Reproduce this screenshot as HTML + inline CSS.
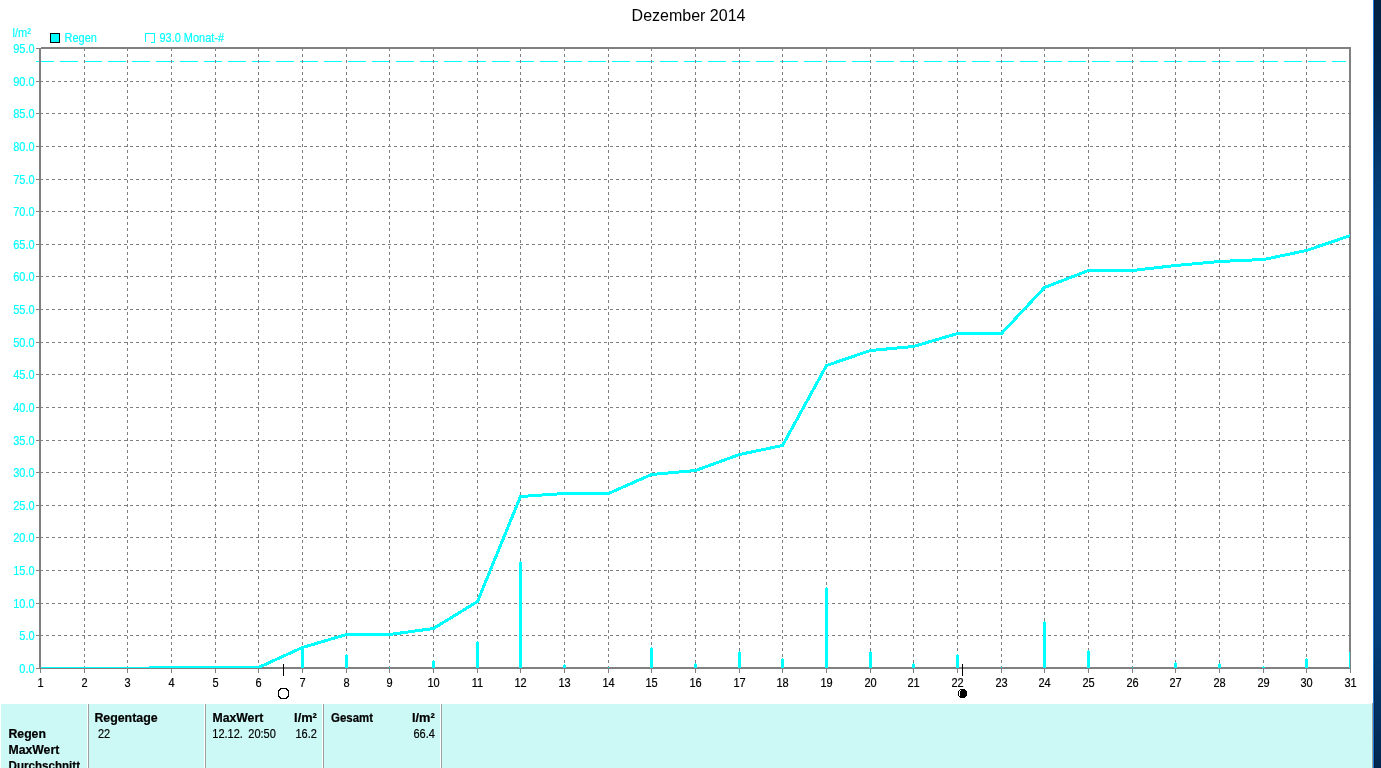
<!DOCTYPE html>
<html lang="de"><head><meta charset="utf-8"><title>Dezember 2014</title>
<style>html,body{margin:0;padding:0;background:#fff;overflow:hidden}body{width:1381px;height:768px;position:relative}svg{position:absolute;left:0;top:0;display:block}text{font-family:"Liberation Sans",sans-serif}.c{fill:#00ffff;stroke:#00ffff;stroke-width:.15px}.k{fill:#000;stroke:#000;stroke-width:.2px}.b{font-weight:bold;stroke-width:.2px}</style></head><body>
<svg width="1381" height="768" viewBox="0 0 1381 768">
<defs>
<linearGradient id="desk" x1="0" y1="0" x2="0" y2="1"><stop offset="0" stop-color="#012245"/><stop offset="0.05" stop-color="#012448"/><stop offset="0.13" stop-color="#022a54"/><stop offset="0.18" stop-color="#023468"/><stop offset="0.26" stop-color="#03417a"/><stop offset="0.34" stop-color="#04488a"/><stop offset="0.4" stop-color="#044280"/><stop offset="0.456" stop-color="#043d78"/><stop offset="0.57" stop-color="#03407c"/><stop offset="0.7" stop-color="#044484"/><stop offset="0.83" stop-color="#04407c"/><stop offset="0.86" stop-color="#033a70"/><stop offset="0.94" stop-color="#023060"/><stop offset="1" stop-color="#02274f"/></linearGradient>
<clipPath id="plot"><rect x="41" y="49" width="1309" height="619"/></clipPath>
</defs>
<rect x="0" y="0" width="1381" height="768" fill="#fff"/>
<g shape-rendering="crispEdges">
<rect x="1374" y="0" width="7" height="768" fill="url(#desk)"/>
<rect x="1374" y="0" width="1" height="768" fill="#000" fill-opacity="0.2"/>
<rect x="1373" y="0" width="1" height="768" fill="#1a7bd8"/>
</g>
<g shape-rendering="crispEdges">
<rect x="1" y="704" width="1371" height="64" fill="#ccf9f6"/>
<rect x="1371" y="704" width="1" height="64" fill="#d6fffc"/>
<rect x="1372" y="703" width="1" height="65" fill="#a0a0a0"/>
<rect x="87" y="704" width="1" height="64" fill="#fff"/>
<rect x="88" y="704" width="1" height="64" fill="#a0a0a0"/>
<rect x="204" y="704" width="1" height="64" fill="#fff"/>
<rect x="205" y="704" width="1" height="64" fill="#a0a0a0"/>
<rect x="322" y="704" width="1" height="64" fill="#fff"/>
<rect x="323" y="704" width="1" height="64" fill="#a0a0a0"/>
<rect x="440" y="704" width="1" height="64" fill="#fff"/>
<rect x="441" y="704" width="1" height="64" fill="#a0a0a0"/>
</g>
<path shape-rendering="crispEdges" d="M36 61.5H1346" stroke="#00ffff" stroke-width="1" stroke-dasharray="18 6" fill="none"/>
<g shape-rendering="crispEdges" stroke="#7e7e7e" stroke-width="1" stroke-dasharray="3 3" fill="none">
<path d="M40 635.5H1349"/>
<path d="M40 603.5H1349"/>
<path d="M40 570.5H1349"/>
<path d="M40 537.5H1349"/>
<path d="M40 505.5H1349"/>
<path d="M40 472.5H1349"/>
<path d="M40 440.5H1349"/>
<path d="M40 407.5H1349"/>
<path d="M40 374.5H1349"/>
<path d="M40 342.5H1349"/>
<path d="M40 309.5H1349"/>
<path d="M40 276.5H1349"/>
<path d="M40 244.5H1349"/>
<path d="M40 211.5H1349"/>
<path d="M40 179.5H1349"/>
<path d="M40 146.5H1349"/>
<path d="M40 113.5H1349"/>
<path d="M40 81.5H1349"/>
<path d="M84.5 48V668"/>
<path d="M127.5 48V668"/>
<path d="M171.5 48V668"/>
<path d="M215.5 48V668"/>
<path d="M258.5 48V668"/>
<path d="M302.5 48V668"/>
<path d="M346.5 48V668"/>
<path d="M389.5 48V668"/>
<path d="M433.5 48V668"/>
<path d="M477.5 48V668"/>
<path d="M520.5 48V668"/>
<path d="M564.5 48V668"/>
<path d="M608.5 48V668"/>
<path d="M651.5 48V668"/>
<path d="M695.5 48V668"/>
<path d="M739.5 48V668"/>
<path d="M782.5 48V668"/>
<path d="M826.5 48V668"/>
<path d="M870.5 48V668"/>
<path d="M913.5 48V668"/>
<path d="M957.5 48V668"/>
<path d="M1001.5 48V668"/>
<path d="M1044.5 48V668"/>
<path d="M1088.5 48V668"/>
<path d="M1132.5 48V668"/>
<path d="M1175.5 48V668"/>
<path d="M1219.5 48V668"/>
<path d="M1263.5 48V668"/>
<path d="M1306.5 48V668"/>
</g>
<g shape-rendering="crispEdges" fill="#808080">
<rect x="39" y="48" width="2" height="621"/>
<rect x="41" y="47" width="1310" height="2"/>
<rect x="1349" y="47" width="2" height="622"/>
<rect x="39" y="667" width="1312" height="2"/>
<rect x="36" y="668" width="3" height="1"/>
<rect x="36" y="635" width="3" height="1"/>
<rect x="36" y="603" width="3" height="1"/>
<rect x="36" y="570" width="3" height="1"/>
<rect x="36" y="537" width="3" height="1"/>
<rect x="36" y="505" width="3" height="1"/>
<rect x="36" y="472" width="3" height="1"/>
<rect x="36" y="440" width="3" height="1"/>
<rect x="36" y="407" width="3" height="1"/>
<rect x="36" y="374" width="3" height="1"/>
<rect x="36" y="342" width="3" height="1"/>
<rect x="36" y="309" width="3" height="1"/>
<rect x="36" y="276" width="3" height="1"/>
<rect x="36" y="244" width="3" height="1"/>
<rect x="36" y="211" width="3" height="1"/>
<rect x="36" y="179" width="3" height="1"/>
<rect x="36" y="146" width="3" height="1"/>
<rect x="36" y="113" width="3" height="1"/>
<rect x="36" y="81" width="3" height="1"/>
<rect x="36" y="48" width="3" height="1"/>
<rect x="40" y="669" width="1" height="4"/>
<rect x="84" y="669" width="1" height="4"/>
<rect x="127" y="669" width="1" height="4"/>
<rect x="171" y="669" width="1" height="4"/>
<rect x="215" y="669" width="1" height="4"/>
<rect x="258" y="669" width="1" height="4"/>
<rect x="302" y="669" width="1" height="4"/>
<rect x="346" y="669" width="1" height="4"/>
<rect x="389" y="669" width="1" height="4"/>
<rect x="433" y="669" width="1" height="4"/>
<rect x="477" y="669" width="1" height="4"/>
<rect x="520" y="669" width="1" height="4"/>
<rect x="564" y="669" width="1" height="4"/>
<rect x="608" y="669" width="1" height="4"/>
<rect x="651" y="669" width="1" height="4"/>
<rect x="695" y="669" width="1" height="4"/>
<rect x="739" y="669" width="1" height="4"/>
<rect x="782" y="669" width="1" height="4"/>
<rect x="826" y="669" width="1" height="4"/>
<rect x="870" y="669" width="1" height="4"/>
<rect x="913" y="669" width="1" height="4"/>
<rect x="957" y="669" width="1" height="4"/>
<rect x="1001" y="669" width="1" height="4"/>
<rect x="1044" y="669" width="1" height="4"/>
<rect x="1088" y="669" width="1" height="4"/>
<rect x="1132" y="669" width="1" height="4"/>
<rect x="1175" y="669" width="1" height="4"/>
<rect x="1219" y="669" width="1" height="4"/>
<rect x="1263" y="669" width="1" height="4"/>
<rect x="1306" y="669" width="1" height="4"/>
<rect x="1350" y="669" width="1" height="4"/>
</g>
<g clip-path="url(#plot)" shape-rendering="crispEdges" fill="#00ffff">
<rect x="40" y="667" width="1" height="1"/>
<rect x="84" y="667" width="1" height="1"/>
<rect x="127" y="667" width="1" height="1"/>
<rect x="170" y="667" width="3" height="1"/>
<rect x="171" y="666" width="1" height="1"/>
<rect x="215" y="667" width="1" height="1"/>
<rect x="258" y="667" width="1" height="1"/>
<rect x="301" y="648" width="3" height="20"/>
<rect x="302" y="647" width="1" height="1"/>
<rect x="345" y="655" width="3" height="13"/>
<rect x="346" y="654" width="1" height="1"/>
<rect x="389" y="667" width="1" height="1"/>
<rect x="432" y="661" width="3" height="7"/>
<rect x="433" y="660" width="1" height="1"/>
<rect x="476" y="642" width="3" height="26"/>
<rect x="477" y="641" width="1" height="1"/>
<rect x="519" y="562" width="3" height="106"/>
<rect x="520" y="561" width="1" height="1"/>
<rect x="563" y="665" width="3" height="3"/>
<rect x="564" y="664" width="1" height="1"/>
<rect x="608" y="667" width="1" height="1"/>
<rect x="650" y="648" width="3" height="20"/>
<rect x="651" y="647" width="1" height="1"/>
<rect x="694" y="664" width="3" height="4"/>
<rect x="695" y="663" width="1" height="1"/>
<rect x="738" y="652" width="3" height="16"/>
<rect x="739" y="651" width="1" height="1"/>
<rect x="781" y="659" width="3" height="9"/>
<rect x="782" y="658" width="1" height="1"/>
<rect x="825" y="588" width="3" height="80"/>
<rect x="826" y="587" width="1" height="1"/>
<rect x="869" y="652" width="3" height="16"/>
<rect x="870" y="651" width="1" height="1"/>
<rect x="912" y="664" width="3" height="4"/>
<rect x="913" y="663" width="1" height="1"/>
<rect x="956" y="655" width="3" height="13"/>
<rect x="957" y="654" width="1" height="1"/>
<rect x="1001" y="667" width="1" height="1"/>
<rect x="1043" y="622" width="3" height="46"/>
<rect x="1044" y="621" width="1" height="1"/>
<rect x="1087" y="651" width="3" height="17"/>
<rect x="1088" y="650" width="1" height="1"/>
<rect x="1132" y="667" width="1" height="1"/>
<rect x="1174" y="663" width="3" height="5"/>
<rect x="1175" y="662" width="1" height="1"/>
<rect x="1218" y="664" width="3" height="4"/>
<rect x="1219" y="663" width="1" height="1"/>
<rect x="1262" y="667" width="3" height="1"/>
<rect x="1263" y="666" width="1" height="1"/>
<rect x="1305" y="659" width="3" height="9"/>
<rect x="1306" y="658" width="1" height="1"/>
<rect x="1349" y="652" width="3" height="16"/>
<rect x="1350" y="651" width="1" height="1"/>
<polyline points="40.5,668.5 84.5,668.5 127.5,668.5 171.5,667.5 215.5,667.5 258.5,667.5 302.5,647.5 346.5,634.5 389.5,634.5 433.5,628.5 477.5,601.5 520.5,496.5 564.5,493.5 608.5,493.5 651.5,474.5 695.5,470.5 739.5,454.5 782.5,445.5 826.5,365.5 870.5,350.5 913.5,346.5 957.5,333.5 1001.5,333.5 1044.5,287.5 1088.5,270.5 1132.5,270.5 1175.5,265.5 1219.5,261.5 1263.5,259.5 1306.5,250.5 1350.5,235.5" fill="none" stroke="#00ffff" stroke-width="3" stroke-linejoin="round" stroke-linecap="round"/>
</g>
<g shape-rendering="crispEdges" fill="#000">
<rect x="283" y="664" width="1" height="12"/>
<rect x="962" y="664" width="1" height="12"/>
</g>
<g shape-rendering="crispEdges" fill="#000">
<rect x="280" y="688" width="7" height="1"/>
<rect x="279" y="689" width="2" height="1"/>
<rect x="286" y="689" width="2" height="1"/>
<rect x="278" y="690" width="2" height="1"/>
<rect x="287" y="690" width="2" height="1"/>
<rect x="278" y="691" width="1" height="5"/>
<rect x="288" y="691" width="1" height="5"/>
<rect x="278" y="696" width="2" height="1"/>
<rect x="287" y="696" width="2" height="1"/>
<rect x="279" y="697" width="2" height="1"/>
<rect x="286" y="697" width="2" height="1"/>
<rect x="280" y="698" width="7" height="1"/>
<rect x="960" y="689" width="5" height="1"/>
<rect x="959" y="690" width="1" height="1"/>
<rect x="961" y="690" width="5" height="1"/>
<rect x="958" y="691" width="1" height="5"/>
<rect x="960" y="691" width="7" height="5"/>
<rect x="959" y="696" width="7" height="1"/>
<rect x="960" y="697" width="5" height="1"/>
</g>
<g shape-rendering="crispEdges">
<rect x="50.5" y="33.5" width="9" height="9" fill="#00ffff" stroke="#000" stroke-width="1"/>
<path d="M145.5 42V33.5H154.5V42.5H151" fill="none" stroke="#00ffff" stroke-width="1"/>
</g>
<text x="688.5" y="21" text-anchor="middle" font-size="16" class="k" stroke="none" style="stroke:none">Dezember 2014</text>
<text transform="translate(12.5 37) scale(0.88 1)" text-anchor="start" font-size="12.5" class="c">l/m²</text>
<text transform="translate(64.5 42) scale(0.88 1)" text-anchor="start" font-size="12.5" class="c">Regen</text>
<text transform="translate(159.5 42) scale(0.876 1)" text-anchor="start" font-size="12.5" class="c">93.0 Monat-#</text>
<text transform="translate(34.6 673) scale(0.88 1)" text-anchor="end" font-size="12.5" class="c">0.0</text>
<text transform="translate(34.6 640) scale(0.88 1)" text-anchor="end" font-size="12.5" class="c">5.0</text>
<text transform="translate(34.6 608) scale(0.88 1)" text-anchor="end" font-size="12.5" class="c">10.0</text>
<text transform="translate(34.6 575) scale(0.88 1)" text-anchor="end" font-size="12.5" class="c">15.0</text>
<text transform="translate(34.6 542) scale(0.88 1)" text-anchor="end" font-size="12.5" class="c">20.0</text>
<text transform="translate(34.6 510) scale(0.88 1)" text-anchor="end" font-size="12.5" class="c">25.0</text>
<text transform="translate(34.6 477) scale(0.88 1)" text-anchor="end" font-size="12.5" class="c">30.0</text>
<text transform="translate(34.6 445) scale(0.88 1)" text-anchor="end" font-size="12.5" class="c">35.0</text>
<text transform="translate(34.6 412) scale(0.88 1)" text-anchor="end" font-size="12.5" class="c">40.0</text>
<text transform="translate(34.6 379) scale(0.88 1)" text-anchor="end" font-size="12.5" class="c">45.0</text>
<text transform="translate(34.6 347) scale(0.88 1)" text-anchor="end" font-size="12.5" class="c">50.0</text>
<text transform="translate(34.6 314) scale(0.88 1)" text-anchor="end" font-size="12.5" class="c">55.0</text>
<text transform="translate(34.6 281) scale(0.88 1)" text-anchor="end" font-size="12.5" class="c">60.0</text>
<text transform="translate(34.6 249) scale(0.88 1)" text-anchor="end" font-size="12.5" class="c">65.0</text>
<text transform="translate(34.6 216) scale(0.88 1)" text-anchor="end" font-size="12.5" class="c">70.0</text>
<text transform="translate(34.6 184) scale(0.88 1)" text-anchor="end" font-size="12.5" class="c">75.0</text>
<text transform="translate(34.6 151) scale(0.88 1)" text-anchor="end" font-size="12.5" class="c">80.0</text>
<text transform="translate(34.6 118) scale(0.88 1)" text-anchor="end" font-size="12.5" class="c">85.0</text>
<text transform="translate(34.6 86) scale(0.88 1)" text-anchor="end" font-size="12.5" class="c">90.0</text>
<text transform="translate(34.6 53) scale(0.88 1)" text-anchor="end" font-size="12.5" class="c">95.0</text>
<text transform="translate(40.5 687) scale(0.88 1)" text-anchor="middle" font-size="12.5" class="k">1</text>
<text transform="translate(84.5 687) scale(0.88 1)" text-anchor="middle" font-size="12.5" class="k">2</text>
<text transform="translate(127.5 687) scale(0.88 1)" text-anchor="middle" font-size="12.5" class="k">3</text>
<text transform="translate(171.5 687) scale(0.88 1)" text-anchor="middle" font-size="12.5" class="k">4</text>
<text transform="translate(215.5 687) scale(0.88 1)" text-anchor="middle" font-size="12.5" class="k">5</text>
<text transform="translate(258.5 687) scale(0.88 1)" text-anchor="middle" font-size="12.5" class="k">6</text>
<text transform="translate(302.5 687) scale(0.88 1)" text-anchor="middle" font-size="12.5" class="k">7</text>
<text transform="translate(346.5 687) scale(0.88 1)" text-anchor="middle" font-size="12.5" class="k">8</text>
<text transform="translate(389.5 687) scale(0.88 1)" text-anchor="middle" font-size="12.5" class="k">9</text>
<text transform="translate(433.5 687) scale(0.88 1)" text-anchor="middle" font-size="12.5" class="k">10</text>
<text transform="translate(477.5 687) scale(0.88 1)" text-anchor="middle" font-size="12.5" class="k">11</text>
<text transform="translate(520.5 687) scale(0.88 1)" text-anchor="middle" font-size="12.5" class="k">12</text>
<text transform="translate(564.5 687) scale(0.88 1)" text-anchor="middle" font-size="12.5" class="k">13</text>
<text transform="translate(608.5 687) scale(0.88 1)" text-anchor="middle" font-size="12.5" class="k">14</text>
<text transform="translate(651.5 687) scale(0.88 1)" text-anchor="middle" font-size="12.5" class="k">15</text>
<text transform="translate(695.5 687) scale(0.88 1)" text-anchor="middle" font-size="12.5" class="k">16</text>
<text transform="translate(739.5 687) scale(0.88 1)" text-anchor="middle" font-size="12.5" class="k">17</text>
<text transform="translate(782.5 687) scale(0.88 1)" text-anchor="middle" font-size="12.5" class="k">18</text>
<text transform="translate(826.5 687) scale(0.88 1)" text-anchor="middle" font-size="12.5" class="k">19</text>
<text transform="translate(870.5 687) scale(0.88 1)" text-anchor="middle" font-size="12.5" class="k">20</text>
<text transform="translate(913.5 687) scale(0.88 1)" text-anchor="middle" font-size="12.5" class="k">21</text>
<text transform="translate(957.5 687) scale(0.88 1)" text-anchor="middle" font-size="12.5" class="k">22</text>
<text transform="translate(1001.5 687) scale(0.88 1)" text-anchor="middle" font-size="12.5" class="k">23</text>
<text transform="translate(1044.5 687) scale(0.88 1)" text-anchor="middle" font-size="12.5" class="k">24</text>
<text transform="translate(1088.5 687) scale(0.88 1)" text-anchor="middle" font-size="12.5" class="k">25</text>
<text transform="translate(1132.5 687) scale(0.88 1)" text-anchor="middle" font-size="12.5" class="k">26</text>
<text transform="translate(1175.5 687) scale(0.88 1)" text-anchor="middle" font-size="12.5" class="k">27</text>
<text transform="translate(1219.5 687) scale(0.88 1)" text-anchor="middle" font-size="12.5" class="k">28</text>
<text transform="translate(1263.5 687) scale(0.88 1)" text-anchor="middle" font-size="12.5" class="k">29</text>
<text transform="translate(1306.5 687) scale(0.88 1)" text-anchor="middle" font-size="12.5" class="k">30</text>
<text transform="translate(1350.5 687) scale(0.88 1)" text-anchor="middle" font-size="12.5" class="k">31</text>
<text transform="translate(8.5 738) scale(1.02 1)" text-anchor="start" font-size="12" class="k b">Regen</text>
<text transform="translate(8.5 754) scale(1.02 1)" text-anchor="start" font-size="12" class="k b">MaxWert</text>
<text transform="translate(8.5 770) scale(0.967 1)" text-anchor="start" font-size="12" class="k b">Durchschnitt</text>
<text transform="translate(94.4 722) scale(1.03 1)" text-anchor="start" font-size="12" class="k b">Regentage</text>
<text transform="translate(212.5 722) scale(1.02 1)" text-anchor="start" font-size="12" class="k b">MaxWert</text>
<text transform="translate(316.9 722) scale(1.07 1)" text-anchor="end" font-size="12" class="k b">l/m²</text>
<text transform="translate(331.0 722) scale(0.955 1)" text-anchor="start" font-size="12" class="k b">Gesamt</text>
<text transform="translate(434.7 722) scale(1.07 1)" text-anchor="end" font-size="12" class="k b">l/m²</text>
<text transform="translate(98.0 738) scale(0.88 1)" text-anchor="start" font-size="12.5" class="k">22</text>
<text transform="translate(212.3 738) scale(0.88 1)" text-anchor="start" font-size="12.5" class="k">12.12.</text>
<text transform="translate(248.3 738) scale(0.88 1)" text-anchor="start" font-size="12.5" class="k">20:50</text>
<text transform="translate(316.8 738) scale(0.88 1)" text-anchor="end" font-size="12.5" class="k">16.2</text>
<text transform="translate(434.8 738) scale(0.88 1)" text-anchor="end" font-size="12.5" class="k">66.4</text>
</svg></body></html>
